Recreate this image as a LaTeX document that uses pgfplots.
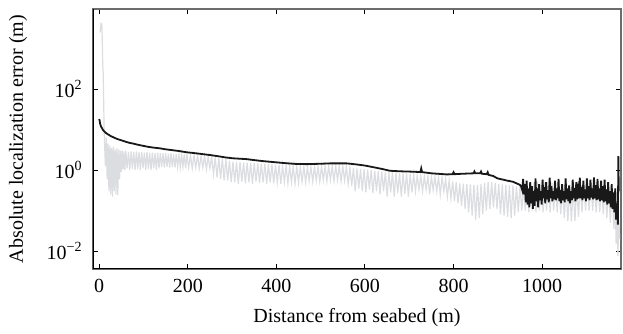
\documentclass[border=0pt]{standalone}
\usepackage{fontspec}
\setmainfont{Liberation Serif}
\usepackage{pgfplots}
\pgfplotsset{compat=1.18}
\definecolor{lgray}{RGB}{220,221,224}
\definecolor{dblack}{RGB}{25,25,25}
\begin{document}
\begin{tikzpicture}
\begin{axis}[
  name=ax,
  width=264pt, height=130pt, scale only axis,
  xmin=-14, xmax=1178,
  ymode=log, ymin=0.0036, ymax=9500,
  xtick={0,200,...,1000},
  ytick={1e-2,1,1e2},
  yticklabels={10\textsuperscript{−2},10\textsuperscript{0},10\textsuperscript{2}},
  yminorticks=false,
  tick align=inside, major tick length=2.5pt,
  tick style={black, line width=0.5pt},
  axis line style={gray!85!black, line width=0.8pt},
  /pgf/number format/assume math mode=true,
  /pgf/number format/1000 sep={},
  xticklabel style={yshift=-1.7pt},
  yticklabel style={xshift=-1.7pt},
  xlabel={Distance from seabed (m)},
  ylabel={Absolute localization error (m)},
  xlabel style={at={(axis description cs:0.5,-0.188)}, anchor=center},
  ylabel style={at={(axis description cs:-0.142,0.5)}, anchor=center},
  clip=true,
]
\addplot[lgray, line width=0.6pt] coordinates {
(2,2500) (4,4200) (6,4000) (7,1500) (8,400) (9,250) (10,60) (11,12)
(12,5.0) (14,1.26) (16,6.3) (18,0.6) (20,4.5) (22,0.3) (24,4.0) (26,0.25) (28,3.5) (30,0.22)
(32,3.8) (34,0.3) (36,3.2) (38,0.25) (40,3.5) (42,0.24) (44,3.2) (46,0.6) (48,3.0) (50,0.9)
(52,3.0) (54,1.05) (56,2.9) (58,1.0) (60,3.0) (63,1.1) (66,2.8) (69,1.0) (72,2.9) (75,1.05)
(78,2.8) (81,1.0) (84,2.9) (87,1.05) (90,2.8) (93,1.0) (96,2.8) (99,1.1) (102,2.7) (105,1.0)
(108,2.8) (111,1.05) (114,2.7) (117,1.0) (120,2.7) (123,1.1) (126,2.6) (129,1.0) (132,2.7) (135,1.1)
(138,2.6) (141,1.2) (144,2.6) (147,1.15) (150,2.6) (153,1.2) (156,2.5) (159,1.15) (162,2.6) (165,1.2)
(168,2.5) (171,1.15) (174,2.5) (177,1.2) (180,2.45) (183,1.15) (186,2.4) (189,1.2) (192,2.45) (195,1.1)
(198,2.4) (202,1.15) (206,2.3) (210,1.1) (214,2.3) (218,1.15) (222,2.25) (226,1.1) (230,2.2) (234,1.15)
(238,2.2) (242,1.05) (246,2.15) (250,1.1) (254,2.1) (258,0.8) (262,2.05) (266,0.65) (270,2.0) (274,0.6)
(278,1.95) (282,0.56) (286,1.9) (290,0.55) (294,1.7) (298,0.5)
(302,1.6) (306,0.5) (310,1.58) (314,0.45) (318,1.57) (322,0.52) (326,1.55) (330,0.47) (334,1.53) (338,0.5)
(342,1.5) (346,0.45) (350,1.48) (354,0.52) (358,1.46) (362,0.48) (366,1.44) (370,0.5) (374,1.42) (378,0.46)
(382,1.4) (386,0.5) (390,1.38) (394,0.47) (398,1.35) (402,0.5) (406,1.33) (410,0.46) (414,1.3) (418,0.5)
(422,1.28) (426,0.47) (430,1.26) (434,0.5) (438,1.24) (442,0.46) (446,1.22) (450,0.5)
(454,1.2) (458,0.52) (462,1.2) (466,0.5) (470,1.2) (474,0.55) (478,1.2) (482,0.52) (486,1.22) (490,0.55)
(494,1.22) (498,0.52) (502,1.24) (506,0.56) (510,1.25) (514,0.53) (518,1.26) (522,0.57) (526,1.25) (530,0.54)
(534,1.25) (538,0.57) (542,1.25) (546,0.53) (550,1.24) (554,0.55) (558,1.2) (562,0.45)
(566,1.15) (570,0.4) (574,1.12) (578,0.3) (582,1.1) (586,0.35) (590,1.07) (594,0.3) (598,1.05) (602,0.28)
(606,1.02) (610,0.33) (614,1.0) (618,0.27) (622,0.97) (626,0.3) (630,0.95) (634,0.25) (638,0.92) (642,0.3)
(646,0.9) (650,0.22) (654,0.88) (658,0.28) (662,0.87) (666,0.22) (670,0.86) (674,0.27) (678,0.84) (682,0.22)
(686,0.83) (690,0.26) (694,0.82) (698,0.22) (702,0.8) (706,0.28) (710,0.77) (714,0.3) (718,0.74) (722,0.33)
(726,0.72) (730,0.3) (734,0.7) (738,0.33) (742,0.7) (746,0.25) (750,0.69) (754,0.32) (758,0.68) (762,0.3)
(766,0.67) (770,0.25) (774,0.66) (778,0.3) (782,0.6) (786,0.22) (790,0.56) (794,0.2) (798,0.52) (802,0.17)
(806,0.5) (810,0.15) (814,0.47) (818,0.13) (822,0.46) (826,0.11) (830,0.45) (834,0.09) (838,0.44) (842,0.075)
(846,0.43) (850,0.06) (854,0.43) (858,0.065) (862,0.45) (866,0.08) (870,0.48) (874,0.1) (878,0.5) (882,0.11)
(886,0.5) (890,0.12) (894,0.48) (898,0.11) (902,0.45) (906,0.08) (910,0.44) (914,0.075) (918,0.43) (922,0.07)
(926,0.42) (930,0.065) (934,0.42) (938,0.075) (942,0.4) (946,0.09) (950,0.4) (954,0.1) (958,0.42) (962,0.1)
(966,0.48) (970,0.09) (974,0.5) (978,0.1) (982,0.5) (986,0.09) (990,0.5) (994,0.1) (998,0.5) (1002,0.09)
(1006,0.48) (1010,0.1) (1014,0.5) (1018,0.09) (1022,0.48) (1026,0.1) (1030,0.5) (1034,0.09) (1038,0.45) (1042,0.08)
(1046,0.42) (1050,0.065) (1054,0.4) (1058,0.055) (1062,0.38) (1066,0.053) (1070,0.38) (1074,0.055) (1078,0.4) (1082,0.07)
(1086,0.45) (1090,0.09) (1094,0.48) (1098,0.1) (1102,0.5) (1106,0.1) (1110,0.5) (1114,0.1) (1118,0.48) (1122,0.09)
(1126,0.45) (1130,0.09) (1134,0.42) (1138,0.08) (1142,0.4) (1146,0.065) (1150,0.38) (1154,0.05) (1158,0.35) (1162,0.035)
(1165,0.2) (1167,0.015) (1169,0.1) (1171,0.0075) (1173,0.06) (1175,0.02)
};
\addplot[dblack, line width=0.9pt] coordinates {
(0,18.2) (1,16.6) (2,14.1) (4,12.0) (6,11.0) (8,10.0) (10,9.3) (13,8.7) (16,8.1) (20,7.6)
(25,7.0) (30,6.6) (35,6.2) (40,5.9) (46,5.6) (53,5.3) (60,5.0) (68,4.7) (77,4.5) (88,4.2)
(100,3.95) (110,3.75) (121,3.6) (136,3.45) (150,3.25) (165,3.1) (180,2.95) (197,2.75) (211,2.65) (230,2.5)
(250,2.35) (270,2.18) (285,2.05) (302,1.95) (333,1.86) (350,1.76) (370,1.66) (400,1.55) (420,1.48) (446,1.41)
(470,1.40) (500,1.43) (521,1.46) (559,1.46) (580,1.38) (600,1.29) (620,1.17) (641,1.05) (656,0.96) (680,0.93)
(709,0.91) (725,0.89) (727,1.10) (729,0.89) (750,0.83) (785,0.78) (798,0.79) (800,0.88) (802,0.79) (820,0.81)
(845,0.83) (847,0.92) (849,0.83) (860,0.83) (862,0.92) (864,0.81) (875,0.79) (877,0.88) (879,0.76) (890,0.71)
(898,0.63) (905,0.60) (912,0.58) (920,0.55) (928,0.53) (935,0.51) (942,0.47) (950,0.43) (953,0.38)
(955,0.32) (957,0.60) (959,0.25) (961,0.45) (963,0.16) (965,0.55) (967,0.14) (969,0.35) (971,0.12) (973,0.50)
(975,0.15) (977,0.40) (979,0.11) (981,0.30) (983,0.13) (985,0.62) (987,0.17) (989,0.35) (991,0.12) (993,0.45)
(995,0.18) (997,0.30) (999,0.14) (1001,0.58) (1003,0.20) (1005,0.38) (1007,0.15) (1009,0.50) (1011,0.19) (1013,0.32)
(1015,0.16) (1017,0.65) (1019,0.20) (1021,0.40) (1023,0.17) (1025,0.30) (1027,0.19) (1029,0.55) (1031,0.18) (1033,0.35)
(1035,0.20) (1037,0.60) (1039,0.17) (1041,0.32) (1043,0.15) (1045,0.45) (1047,0.18) (1049,0.30) (1051,0.16) (1053,0.62)
(1055,0.19) (1057,0.35) (1059,0.17) (1061,0.42) (1063,0.15) (1065,0.30) (1067,0.18) (1069,0.58) (1071,0.20) (1073,0.36)
(1075,0.17) (1077,0.50) (1079,0.19) (1081,0.32) (1083,0.20) (1085,0.65) (1087,0.20) (1089,0.38) (1091,0.18) (1093,0.55)
(1095,0.20) (1097,0.33) (1099,0.17) (1101,0.62) (1103,0.20) (1105,0.40) (1107,0.18) (1109,0.58) (1111,0.21) (1113,0.35)
(1115,0.19) (1117,0.66) (1119,0.20) (1121,0.42) (1123,0.18) (1125,0.60) (1127,0.19) (1129,0.35) (1131,0.17) (1133,0.55)
(1135,0.18) (1137,0.40) (1139,0.16) (1141,0.58) (1143,0.17) (1145,0.33) (1147,0.14) (1149,0.50) (1151,0.15) (1153,0.30)
(1155,0.12) (1157,0.45) (1159,0.11) (1161,0.28) (1163,0.09) (1165,0.35) (1167,0.06) (1169,0.15) (1171,0.045) (1172,2.2)
(1173,0.3)
};
\draw[black, line width=1.2pt] (rel axis cs:0,1) -- (rel axis cs:0,0) -- (rel axis cs:1,0);
\end{axis}
\path ([shift={(-46.5pt,-32pt)}]ax.south west) rectangle ([shift={(1pt,4.5pt)}]ax.north east);
\end{tikzpicture}
\end{document}
